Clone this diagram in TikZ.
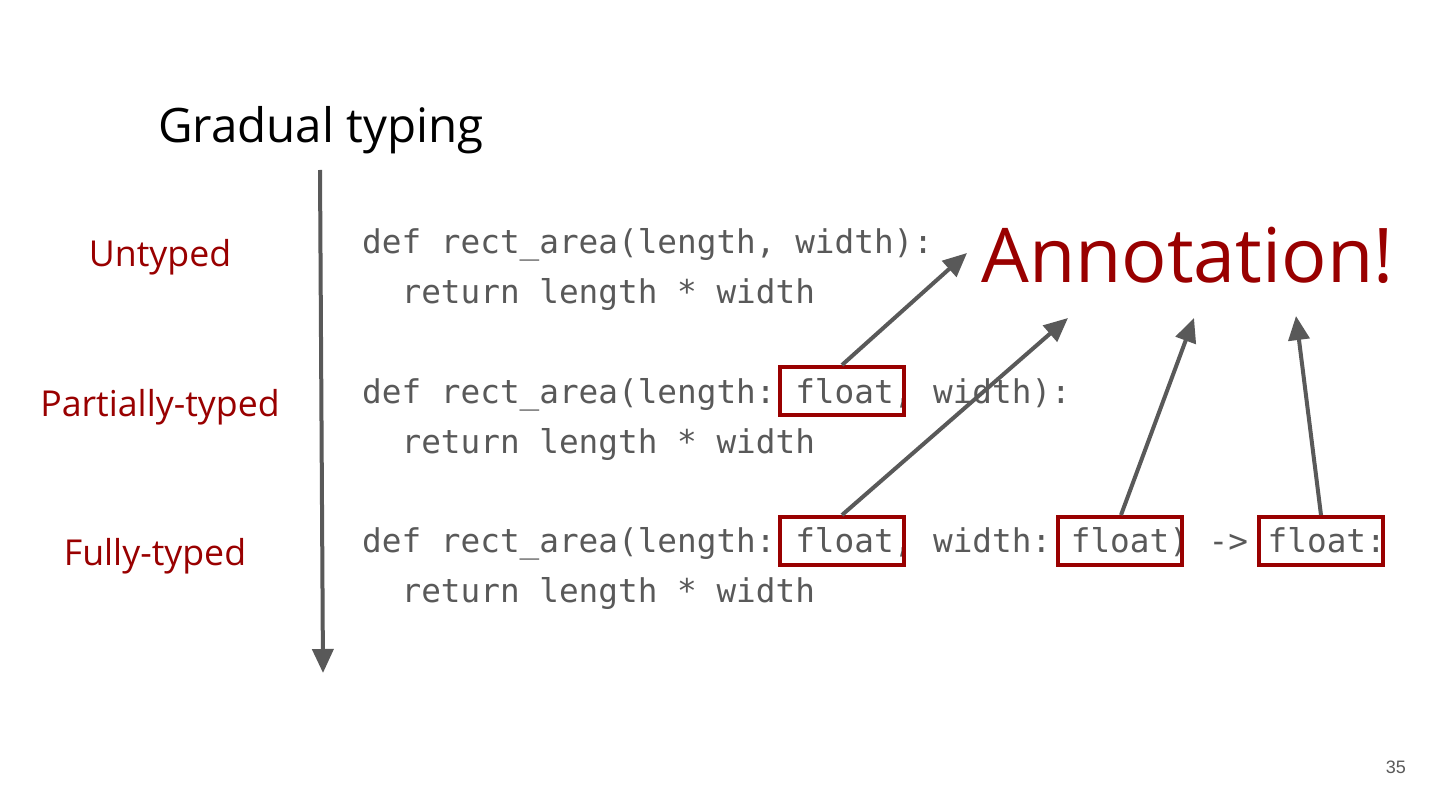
\documentclass[tikz,border=0pt]{standalone}
\usepackage{fontspec}
\setmainfont{Open Sans}
\newfontfamily\codefont{DejaVu Sans Mono}
\newfontfamily\numfont{Liberation Sans}
\usetikzlibrary{arrows.meta}
\definecolor{annred}{HTML}{990000}
\definecolor{arrgray}{HTML}{595959}
\definecolor{codegray}{HTML}{595959}
\tikzset{
  codeline/.style={anchor=base west, inner sep=0pt, text=codegray, font=\codefont\frenchspacing\fontsize{32.7}{36}\selectfont},
  levellabel/.style={anchor=base, inner sep=0pt, text=annred, font=\fontsize{35.7}{40}\selectfont},
  annbox/.style={draw=annred, line width=4pt, minimum width=124pt, minimum height=48pt, inner sep=0pt},
  annarrow/.style={draw=arrgray, line width=4pt, -{Triangle[width=21pt,length=24pt]}},
}
\begin{document}
\begin{tikzpicture}[x=1pt,y=-1pt]
\useasboundingbox[fill=white] (0,0) rectangle (1440,810);
% title
\node[anchor=base west, inner sep=0pt, font=\fontsize{47.5}{52}\selectfont] (title) at (158,143) {Gradual typing};
% vertical arrow
\coordinate (vtop) at (320,170);
\coordinate (vbot) at (323,673);
\draw[annarrow] (vtop) -- (vbot);
% level labels
\node[levellabel] (untyped) at (160,267) {Untyped};
\node[levellabel] (partial) at (160,416) {Partially-typed};
\node[levellabel] (fully) at (155,565) {Fully-typed};
% code
\node[codeline] (c1) at (362,254) {def rect\_area(length, width):};
\node[codeline] (c2) at (362,304) {\ \ return length * width};
\node[codeline] (c3) at (362,403) {def rect\_area(length: float, width):};
\node[codeline] (c4) at (362,453) {\ \ return length * width};
\node[codeline] (c5) at (362,552) {def rect\_area(length: float, width: float) -> float:};
\node[codeline] (c6) at (362,602) {\ \ return length * width};
% annotation boxes
\node[annbox] (b1) at (842,391) {};
\node[annbox] (b2) at (842,541) {};
\node[annbox] (b3) at (1119.5,541) {};
\node[annbox] (b4) at (1321,541) {};
% annotation text
\node[anchor=base west, inner sep=0pt, text=annred, font=\fontsize{75.5}{80}\selectfont] (ann) at (981,283) {Annotation!};
% arrow targets
\coordinate (t1) at (967,253);
\coordinate (t2) at (1068,318);
\coordinate (t3) at (1194,318);
\coordinate (t4) at (1296,316);
\draw[annarrow] (b1.north) -- (t1);
\draw[annarrow] (b2.north) -- (t2);
\draw[annarrow] ([xshift=1.5pt]b3.north) -- (t3);
\draw[annarrow] (b4.north) -- (t4);
% page number
\node[anchor=base east, inner sep=0pt, text=codegray, font=\numfont\fontsize{18}{20}\selectfont] (pnum) at (1406,773) {35};
\end{tikzpicture}
\end{document}
